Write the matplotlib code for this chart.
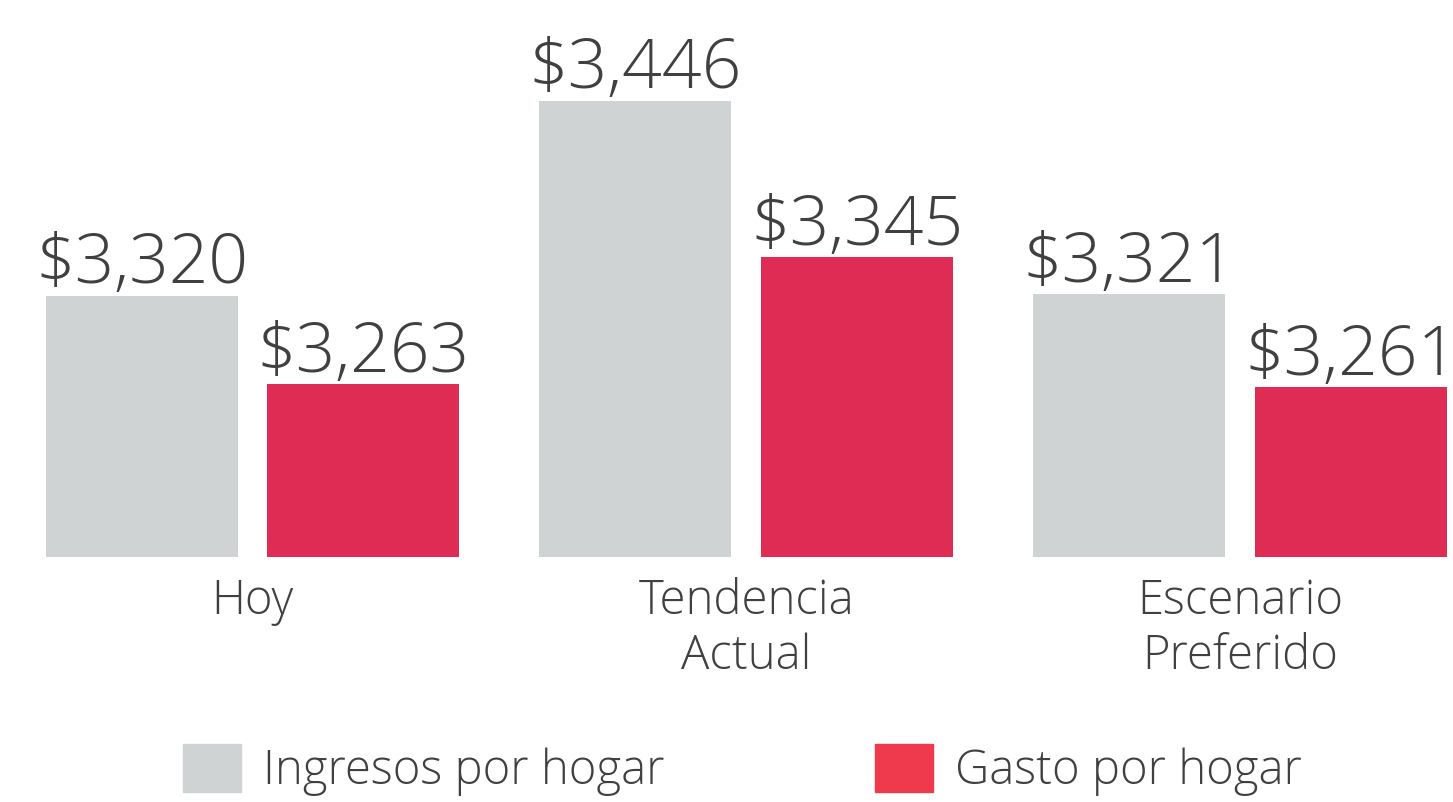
import matplotlib.pyplot as plt
import numpy as np

categories = ["Hoy", "Tendencia\nActual", "Escenario\nPreferido"]
ingresos = [3320, 3446, 3321]
gasto = [3263, 3345, 3261]
series_names = ["Ingresos por hogar", "Gasto por hogar"]

base = 3151
gray = "#d0d3d4"
red = "#df2c54"
legend_red = "#ee3a4c"
text_color = "#404040"

plt.rcParams["font.family"] = ["Open Sans", "DejaVu Sans"]

fig = plt.figure(figsize=(14.53, 8.02), dpi=100)
ax = fig.add_axes([0, 0, 1, 1])

x = np.arange(len(categories))
width = 0.389
offset = 0.2247

ax.bar(x - offset, np.array(ingresos) - base, width, bottom=base, color=gray)
ax.bar(x + offset, np.array(gasto) - base, width, bottom=base, color=red)

for xs, vals in [(x - offset, ingresos), (x + offset, gasto)]:
    for xi, v in zip(xs, vals):
        ax.text(xi, v + 8, f"${v:,}", ha="center", va="baseline",
                fontsize=50, color=text_color, fontweight="light")

for xi, cat in zip(x, categories):
    ax.text(xi, base - 13, cat, ha="center", va="top", fontsize=34,
            color=text_color, linespacing=1.18, fontweight="light")

ax.set_xlim(-0.5114, 2.4314)
ax.set_ylim(2993, 3511)
ax.axis("off")

h1 = plt.Rectangle((0, 0), 1, 1, color=gray)
h2 = plt.Rectangle((0, 0), 1, 1, color=legend_red)
fig.legend([h1, h2], series_names, loc="lower center", bbox_to_anchor=(0.511, -0.022),
           ncol=2, frameon=False, handlelength=1.23, handleheight=1.2,
           handletextpad=0.47, columnspacing=4.45, borderpad=0, labelcolor=text_color,
           prop={"size": 34, "weight": "light"})

fig.savefig("out.png", dpi=100)
